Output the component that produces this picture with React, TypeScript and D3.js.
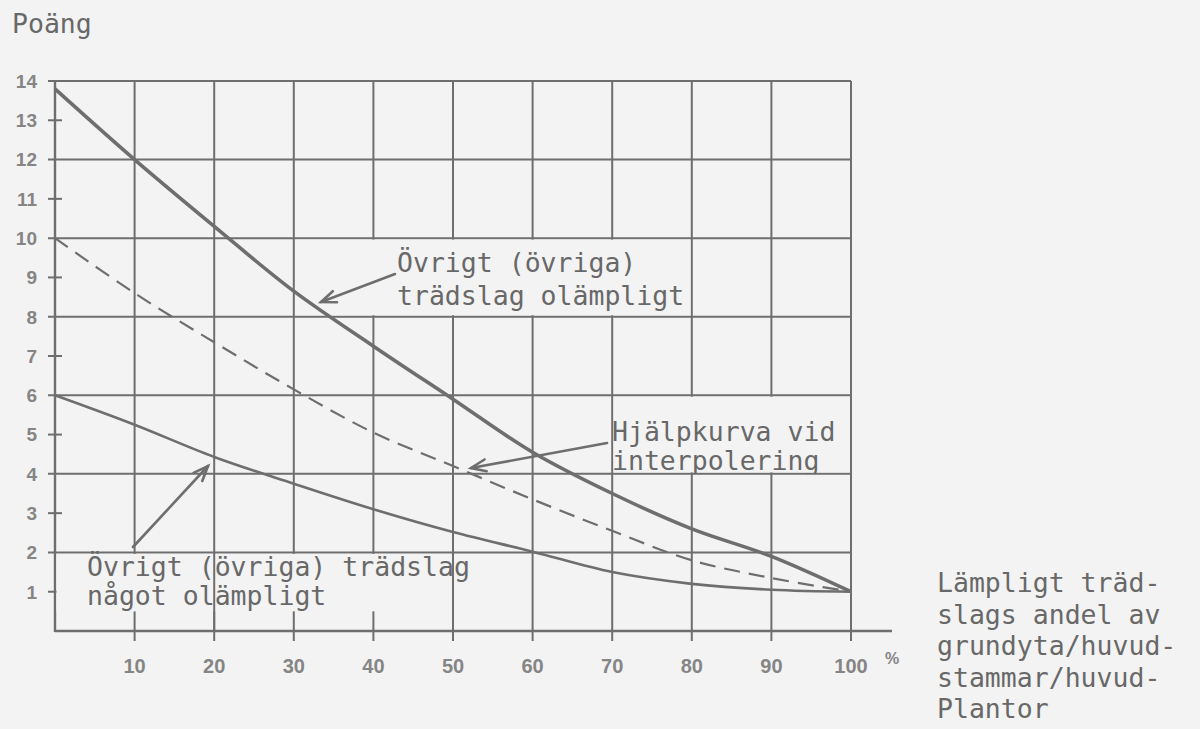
import React from "react";
import * as d3 from "d3";

// ---- data ----
const xValues = [0, 10, 20, 30, 40, 50, 60, 70, 80, 90, 100];
const unsuitable = [13.8, 12.0, 10.3, 8.65, 7.25, 5.9, 4.55, 3.5, 2.6, 1.9, 1.0];
const helperCurve = [10, 8.6, 7.35, 6.15, 5.05, 4.2, 3.35, 2.55, 1.8, 1.35, 1.0];
const somewhatUnsuitable = [6, 5.25, 4.43, 3.75, 3.1, 2.52, 2.02, 1.5, 1.2, 1.05, 1.0];

const xTicks = [10, 20, 30, 40, 50, 60, 70, 80, 90, 100];
const yGridValues = [2, 4, 6, 8, 10, 12, 14];
const yTickValues = [1, 3, 5, 7, 9, 11, 13];
const yLabels = [1, 2, 3, 4, 5, 6, 7, 8, 9, 10, 11, 12, 13, 14];

const yTitle = "Poäng";
const topNote = ["Övrigt (övriga)", "trädslag olämpligt"];
const helperNote = ["Hjälpkurva vid", "interpolering"];
const bottomNote = ["Övrigt (övriga) trädslag", "något olämpligt"];
const xTitle = ["Lämpligt träd-", "slags andel av", "grundyta/huvud-", "stammar/huvud-", "Plantor"];

const W = 1200;
const H = 729;
const BG = "#f3f3f3";
const INK = "#6e6e6e";
const TXT = "#686868";
const MONO = "'DejaVu Sans Mono', monospace";
const SANS = "'Liberation Sans', Arial, sans-serif";

const x = d3.scaleLinear().domain([0, 100]).range([55, 851]);
const y = d3.scaleLinear().domain([0, 14]).range([631, 81]);

const mkLine = (vals: number[]) =>
  d3
    .line<number>()
    .x((_, i) => x(xValues[i]))
    .y((d) => y(d))
    .curve(d3.curveCatmullRom.alpha(0.5))(vals) || "";

function Arrow({ x1, y1, x2, y2 }: { x1: number; y1: number; x2: number; y2: number }) {
  const ang = Math.atan2(y2 - y1, x2 - x1);
  const len = 16;
  const spread = 0.38;
  const a1 = ang + Math.PI - spread;
  const a2 = ang + Math.PI + spread;
  return (
    <g stroke={INK} strokeWidth={2.6} fill="none" strokeLinecap="round">
      <line x1={x1} y1={y1} x2={x2} y2={y2} />
      <path
        d={`M${x2 + len * Math.cos(a1)},${y2 + len * Math.sin(a1)} L${x2},${y2} L${x2 + len * Math.cos(a2)},${y2 + len * Math.sin(a2)}`}
      />
    </g>
  );
}

export default function App() {
  const fs = 26.5;
  return (
    <svg
      width={W}
      height={H}
      style={{ position: "absolute", left: 0, top: 0, display: "block" }}
    >
      <rect width={W} height={H} fill={BG} />
      <defs>
        <clipPath id="helperClip">
          <rect x={x(70) + 1} y={y(6) + 1} width={x(100) - x(70) - 2} height={y(4) - y(6) - 1} />
        </clipPath>
      </defs>

      {/* grid */}
      <g stroke={INK} strokeWidth={2}>
        {yGridValues.map((v) => (
          <line key={"h" + v} x1={48} x2={x(100)} y1={y(v)} y2={y(v)} />
        ))}
        {yTickValues.map((v) => (
          <line key={"t" + v} x1={48} x2={62} y1={y(v)} y2={y(v)} />
        ))}
        {xTicks.map((v) => (
          <line key={"v" + v} x1={x(v)} x2={x(v)} y1={y(14)} y2={y(0) + 10} />
        ))}
        {/* axes */}
        <line x1={x(0)} x2={x(0)} y1={y(14)} y2={y(0) + 1} strokeWidth={2.4} />
        <line x1={x(0)} x2={892} y1={y(0)} y2={y(0)} strokeWidth={2.4} />
      </g>

      {/* annotation boxes masking the grid */}
      <g fill={BG}>
        <rect x={x(30) + 1.5} y={y(10) + 1.5} width={x(80) - x(30) - 3} height={y(8) - y(10) - 3} />
        <rect x={x(70) + 1.5} y={y(6) + 1.5} width={x(100) - x(70) - 3} height={y(4) - y(6) - 3} />
        <rect x={x(0) + 1.5} y={y(2) + 1.5} width={x(50) - x(0) - 3} height={y(0.5) - y(2) - 1.5} />
      </g>
      <line x1={x(20)} x2={x(20)} y1={y(2)} y2={y(0)} stroke={INK} strokeWidth={2} />

      {/* curves */}
      <path d={mkLine(unsuitable)} fill="none" stroke={INK} strokeWidth={3.6} />
      <path d={mkLine(helperCurve)} fill="none" stroke={INK} strokeWidth={2.2} strokeDasharray="16 9" />
      <path d={mkLine(somewhatUnsuitable)} fill="none" stroke={INK} strokeWidth={2.6} />

      {/* y labels */}
      <g fontFamily={SANS} fontWeight="bold" fontSize="19px" fill="#858585" textAnchor="end">
        {yLabels.map((v) => (
          <text key={v} x={37} y={y(v)} dy="0.36em">
            {v}
          </text>
        ))}
      </g>
      {/* x labels */}
      <g fontFamily={SANS} fontWeight="bold" fontSize="20px" fill="#858585" textAnchor="middle">
        {xTicks.map((v) => (
          <text key={v} x={x(v)} y={673}>
            {v}
          </text>
        ))}
        <text x={892} y={664} fontSize="16px">
          %
        </text>
      </g>

      {/* texts */}
      <g fontFamily={MONO} fontSize={fs} fill={TXT}>
        <text x={12} y={33}>{yTitle}</text>
        {topNote.map((t, i) => (
          <text key={t} x={397} y={272 + i * 33}>
            {t}
          </text>
        ))}
        <g clipPath="url(#helperClip)">
          {helperNote.map((t, i) => (
            <text key={t} x={612} y={441 + i * 29}>
              {t}
            </text>
          ))}
        </g>
        {bottomNote.map((t, i) => (
          <text key={t} x={87} y={576 + i * 29}>
            {t}
          </text>
        ))}
        {xTitle.map((t, i) => (
          <text key={t} x={937} y={592 + i * 31.5}>
            {t}
          </text>
        ))}
      </g>

      {/* arrows */}
      <Arrow x1={395} y1={274} x2={321} y2={302} />
      <Arrow x1={607} y1={443} x2={471} y2={468} />
      <Arrow x1={133} y1={547} x2={208} y2={466} />
    </svg>
  );
}
